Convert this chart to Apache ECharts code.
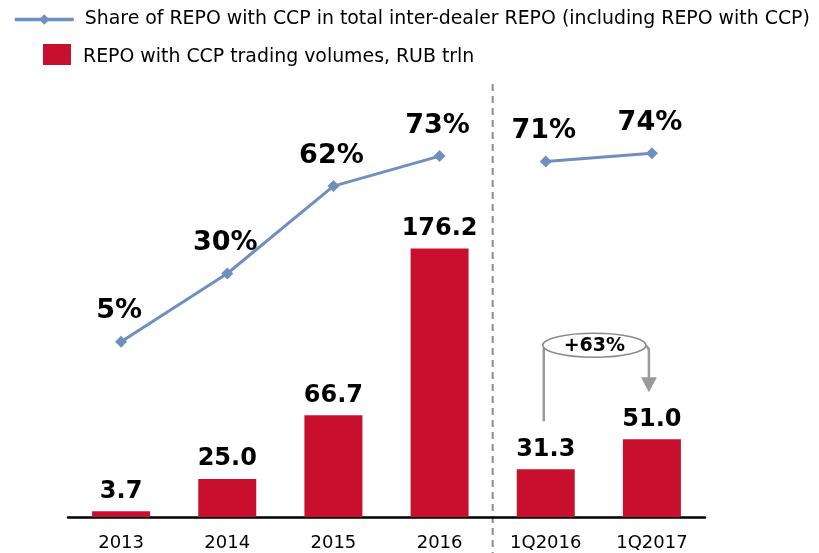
<!DOCTYPE html>
<html>
<head>
<meta charset="utf-8">
<script src="https://cdn.jsdelivr.net/npm/echarts@6/dist/echarts.min.js"></script>
<style>
  html, body { margin: 0; padding: 0; background: #fff; }
  #chart { width: 819px; height: 553px; }
</style>
</head>
<body>
<div id="chart"></div>
<script>
// Periods on the x axis: four full years, then two first quarters
const categories = ['2013', '2014', '2015', '2016', '1Q2016', '1Q2017'];
// REPO with CCP trading volumes, RUB trln
const volumes = [3.7, 25.0, 66.7, 176.2, 31.3, 51.0];
// Share of REPO with CCP in total inter-dealer REPO, %
const shareYears = [5, 30, 62, 73, null, null];
const shareQuarters = [null, null, null, null, 71, 74];
// Quarter-on-quarter growth callout
const growthLabel = '+63%';

const FONT = 'DejaVu Sans';
const RED = '#C8102E';
const BLUE = '#6F8FBF';
const shareName = 'Share of REPO with CCP in total inter-dealer REPO (including REPO with CCP)';
const volName = 'REPO with CCP trading volumes, RUB trln';

const chart = echarts.init(document.getElementById('chart'), null, { renderer: 'canvas' });

const toSeriesData = arr => arr.map(v => (v === null ? '-' : v));

const lineSeries = (data) => ({
  name: shareName,
  type: 'line',
  yAxisIndex: 1,
  data: toSeriesData(data),
  symbol: 'diamond',
  symbolSize: 12,
  connectNulls: false,
  lineStyle: { color: BLUE, width: 3 },
  itemStyle: { color: BLUE },
  label: {
    show: true,
    position: 'top',
    distance: 11,
    offset: [-2, 0],
    formatter: p => p.value + '%',
    fontFamily: FONT,
    fontWeight: 'bold',
    fontSize: 27,
    color: '#000'
  },
  z: 3
});

const option = {
  animation: false,
  backgroundColor: '#fff',
  textStyle: { fontFamily: FONT },
  legend: [
    {
      data: [shareName],
      left: 13, top: 10, padding: 0,
      itemWidth: 59, itemHeight: 13, itemGap: 11,
      lineStyle: { width: 3.5 },
      itemStyle: { borderWidth: 0 },
      textStyle: { fontFamily: FONT, fontSize: 18.9, color: '#000', padding: [0, 0, 0, 6] }
    },
    {
      data: [{ name: volName, icon: 'rect' }],
      left: 43, top: 44, padding: 0,
      itemWidth: 28, itemHeight: 21, itemGap: 11,
      formatter: name => '{t|' + name + '}',
      textStyle: {
        fontFamily: FONT, fontSize: 18.9, color: '#000',
        rich: { t: { fontFamily: FONT, fontSize: 18.9, color: '#000', padding: [6, 0, 0, 7] } }
      }
    }
  ],
  grid: { left: 68, right: 114, top: 81, bottom: 36, containLabel: false },
  xAxis: {
    type: 'category',
    data: categories,
    axisLine: { lineStyle: { color: '#000', width: 2.5 } },
    axisTick: { show: false },
    axisLabel: { fontFamily: FONT, fontSize: 18, color: '#000', margin: 17 }
  },
  yAxis: [
    { type: 'value', min: 0, max: 286.1, show: false },
    { type: 'value', min: -59.2, max: 100.5, show: false }
  ],
  series: [
    {
      name: volName,
      type: 'bar',
      data: volumes,
      barWidth: 58,
      itemStyle: { color: RED },
      label: {
        show: true,
        position: 'top',
        distance: 8,
        formatter: p => p.value.toFixed(1),
        fontFamily: FONT,
        fontWeight: 'bold',
        fontSize: 24,
        color: '#000'
      },
      z: 2
    },
    lineSeries(shareYears),
    lineSeries(shareQuarters)
  ]
};

chart.setOption(option);

// Separator between annual and quarterly figures, plus the growth callout
function drawOverlay() {
  const xOf = c => chart.convertToPixel({ xAxisIndex: 0 }, c);
  const yBar = v => chart.convertToPixel({ yAxisIndex: 0 }, v);
  const xSep = (xOf('2016') + xOf('1Q2016')) / 2;
  const xa = xOf('1Q2016') - 2;
  const xb = xOf('1Q2017') - 3;
  const topA = yBar(volumes[4]);
  const topB = yBar(volumes[5]);
  const ey = topB - 94;
  const ex = (xa + xb) / 2 - 2;
  const grey = '#9A9A9A';
  chart.setOption({
    graphic: [
      {
        type: 'line', silent: true,
        shape: { x1: xSep, y1: 84, x2: xSep, y2: 553 },
        style: { stroke: '#8C8C8C', lineWidth: 2, lineDash: [7, 5] }
      },
      {
        type: 'polyline', silent: true,
        shape: { points: [[xa, topA - 48], [xa, ey + 4], [xa + 3, ey]] },
        style: { stroke: grey, lineWidth: 2.5, fill: null }
      },
      {
        type: 'polyline', silent: true,
        shape: { points: [[xb - 3, ey], [xb, ey + 4], [xb, topB - 60]] },
        style: { stroke: grey, lineWidth: 2.5, fill: null }
      },
      {
        type: 'polygon', silent: true,
        shape: { points: [[xb - 8, topB - 62], [xb + 8, topB - 62], [xb, topB - 47]] },
        style: { fill: grey }
      },
      {
        type: 'ellipse', silent: true,
        shape: { cx: ex, cy: ey, rx: (xb - xa) / 2 - 1, ry: 12 },
        style: { fill: '#fff', stroke: '#8A8A8A', lineWidth: 1.5 }
      },
      {
        type: 'text', silent: true,
        x: ex, y: ey + 1,
        style: {
          text: growthLabel,
          align: 'center', verticalAlign: 'middle',
          fontFamily: FONT, fontWeight: 'bold', fontSize: 19, fill: '#000'
        }
      }
    ]
  });
}
drawOverlay();
</script>
</body>
</html>
